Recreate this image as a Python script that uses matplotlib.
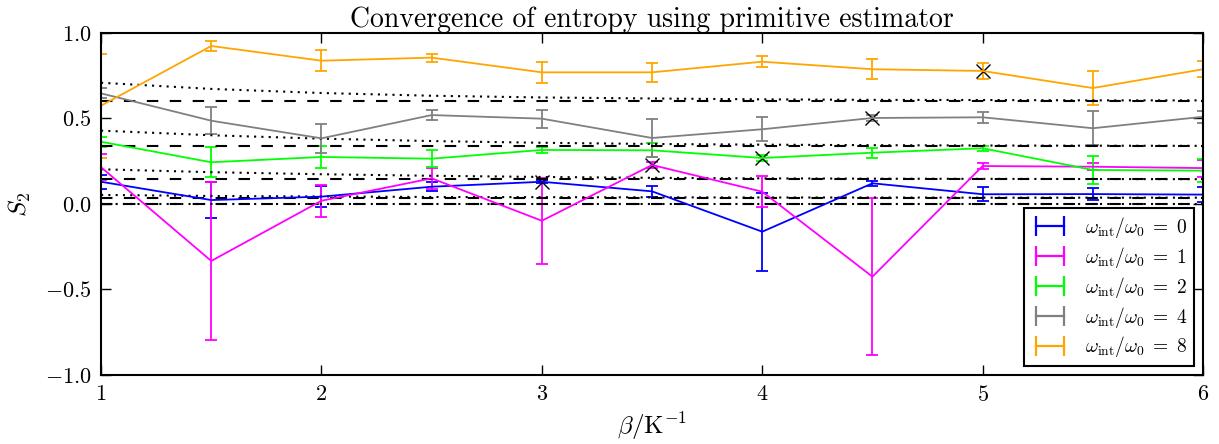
import numpy as np
import matplotlib
matplotlib.use("Agg")
import matplotlib.pyplot as plt
from matplotlib.lines import Line2D

plt.rcParams["font.family"] = "serif"
plt.rcParams["font.serif"] = ["cmr10"]
plt.rcParams["mathtext.fontset"] = "cm"
plt.rcParams["axes.formatter.use_mathtext"] = True

beta = [1.0, 1.5, 2.0, 2.5, 3.0, 3.5, 4.0, 4.5, 5.0, 5.5, 6.0]
omega_ratio = [0, 1, 2, 4, 8]
colors = ["#0000ff", "#ff00ff", "#00ff00", "#808080", "#ffa500"]

# PIMC estimates and errors, one list per omega_int/omega_0
S2_w0 = [0.130, 0.023, 0.043, 0.101, 0.130, 0.074, -0.162, 0.121, 0.057, 0.058, 0.055]
err_w0 = [0.040, 0.103, 0.062, 0.025, 0.010, 0.032, 0.227, 0.016, 0.040, 0.036, 0.045]
S2_w1 = [0.215, -0.333, 0.019, 0.150, -0.098, 0.228, 0.072, -0.425, 0.222, 0.218, 0.210]
err_w1 = [0.077, 0.460, 0.093, 0.060, 0.250, 0.020, 0.090, 0.460, 0.020, 0.020, 0.050]
S2_w2 = [0.364, 0.244, 0.275, 0.265, 0.316, 0.314, 0.269, 0.300, 0.326, 0.199, 0.195]
err_w2 = [0.030, 0.087, 0.065, 0.048, 0.020, 0.040, 0.020, 0.030, 0.016, 0.082, 0.068]
S2_w4 = [0.647, 0.487, 0.384, 0.520, 0.499, 0.386, 0.437, 0.503, 0.507, 0.443, 0.510]
err_w4 = [0.030, 0.080, 0.083, 0.027, 0.053, 0.110, 0.070, 0.020, 0.032, 0.100, 0.035]
S2_w8 = [0.575, 0.924, 0.838, 0.856, 0.770, 0.770, 0.832, 0.788, 0.778, 0.678, 0.788]
err_w8 = [0.305, 0.027, 0.060, 0.024, 0.062, 0.054, 0.032, 0.057, 0.048, 0.097, 0.048]

# exact thermal S2 (dotted) and ground-state S2 (dashed)
exact_w0 = [0.0] * 11
exact_w1 = [0.053, 0.047, 0.044, 0.041, 0.040, 0.039, 0.038, 0.038, 0.037, 0.037, 0.037]
exact_w2 = [0.203, 0.186, 0.174, 0.165, 0.158, 0.153, 0.150, 0.148, 0.147, 0.146, 0.145]
exact_w4 = [0.429, 0.402, 0.382, 0.368, 0.358, 0.351, 0.347, 0.344, 0.342, 0.341, 0.340]
exact_w8 = [0.709, 0.673, 0.649, 0.633, 0.623, 0.617, 0.612, 0.609, 0.608, 0.606, 0.606]
ground = [0.0, 0.037, 0.144, 0.339, 0.604]

# points where the estimate is marked
mark_beta = [3.0, 3.5, 4.0, 4.5, 5.0]
mark_S2 = [0.130, 0.228, 0.269, 0.503, 0.778]

estimates = [S2_w0, S2_w1, S2_w2, S2_w4, S2_w8]
errors = [err_w0, err_w1, err_w2, err_w4, err_w8]
exacts = [exact_w0, exact_w1, exact_w2, exact_w4, exact_w8]

fig = plt.figure(figsize=(12.19, 4.44), dpi=100)
ax = fig.add_axes([0.0829, 0.1554, 0.904, 0.7703])

handles = []
labels = []
for w, y, e, c in zip(omega_ratio, estimates, errors, colors):
    ax.errorbar(beta, y, yerr=e, color=c, lw=1.3, elinewidth=1.3,
                capsize=4, capthick=1.3)
    # legend handle drawn as |--| like the old errorbar legend
    handles.append(Line2D([], [], color=c, lw=1.6, marker="|", ms=14, mew=1.6))
    labels.append(r"$\omega_\mathrm{int}/\omega_0\;=\;%d$" % w)

for ex, g in zip(exacts, ground):
    ax.plot(beta, ex, color="k", lw=1.5, dashes=(1, 2.5))
    ax.axhline(g, color="k", lw=1.5, dashes=(5.5, 5.5))

ax.plot(mark_beta, mark_S2, "x", color="k", ms=10, mew=1.0)

ax.set_xlim(1, 6)
ax.set_ylim(-1.0, 1.0)
ax.set_xticks([1, 2, 3, 4, 5, 6])
ax.set_yticks([-1.0, -0.5, 0.0, 0.5, 1.0])
ax.tick_params(direction="in", top=True, right=True, length=7, width=1,
               labelsize=16, pad=7)
for s in ax.spines.values():
    s.set_linewidth(1.5)

ax.set_title("Convergence of entropy using primitive estimator", fontsize=20, pad=4)
ax.set_xlabel(r"$\beta/\mathrm{K}^{-1}$", fontsize=18, labelpad=4)
ax.set_ylabel(r"$S_2$", fontsize=18, labelpad=8)

leg = ax.legend(handles, labels, loc="lower right", fontsize=14, numpoints=2,
                fancybox=False, framealpha=1, edgecolor="k",
                borderaxespad=0.45, handlelength=2.0, labelspacing=0.25,
                borderpad=0.35)
leg.get_frame().set_linewidth(1.5)

fig.savefig("out.png", dpi=100)
